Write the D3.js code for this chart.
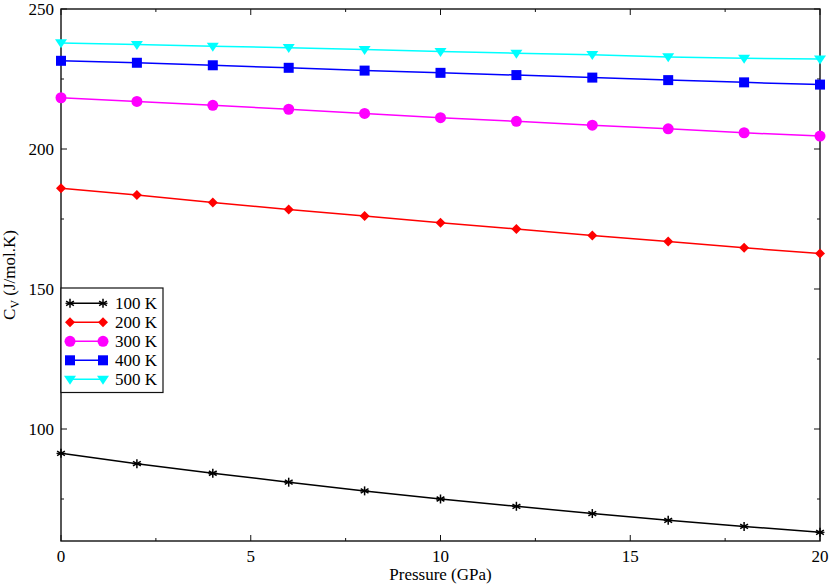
<!DOCTYPE html>
<html>
<head>
<meta charset="utf-8">
<script src="https://cdn.jsdelivr.net/npm/d3@7"></script>
<style>
  body { margin: 0; background: #fff; }
</style>
</head>
<body>
<svg id="chart" width="830" height="584"></svg>
<script>
// pressure (GPa)
const pressure = [0, 2, 4, 6, 8, 10, 12, 14, 16, 18, 20];

// Cv (J/mol.K) per temperature
const cv100 = [91.3, 87.6, 84.2, 81.0, 77.9, 75.0, 72.4, 69.8, 67.4, 65.2, 63.1];
const cv200 = [186.0, 183.6, 180.9, 178.4, 176.1, 173.7, 171.4, 169.1, 167.0, 164.7, 162.7];
const cv300 = [218.3, 217.0, 215.6, 214.2, 212.7, 211.2, 209.9, 208.5, 207.2, 205.8, 204.6];
const cv400 = [231.5, 230.8, 229.9, 229.0, 228.0, 227.2, 226.4, 225.5, 224.6, 223.8, 223.0];
const cv500 = [237.9, 237.3, 236.7, 236.2, 235.5, 234.8, 234.2, 233.7, 232.9, 232.4, 232.1];

const seriesNames = ["100 K", "200 K", "300 K", "400 K", "500 K"];
const seriesValues = [cv100, cv200, cv300, cv400, cv500];
const seriesColors = ["#000000", "#ff0000", "#ff00ff", "#0000ff", "#00ffff"];
const seriesSymbols = ["asterisk", "diamond", "circle", "square", "triangleDown"];

const xTicks = [0, 5, 10, 15, 20];
const xMinor = [2.5, 7.5, 12.5, 17.5];
const yTicks = [100, 150, 200, 250];
const yMinor = [75, 125, 175, 225];

const FONT = "Liberation Serif";

const svg = d3.select("#chart");
const margin = {left: 61, right: 10, top: 9, bottom: 43};
const W = 830, H = 584;

const x = d3.scaleLinear().domain([0, 20]).range([margin.left, W - margin.right]);
const y = d3.scaleLinear().domain([60, 250]).range([H - margin.bottom, margin.top]);

const g = svg.append("g");

function label(sel){
  return sel.append("text").style("font-family", FONT);
}

// frame
g.append("rect")
  .attr("x", x(0)).attr("y", y(250))
  .attr("width", x(20) - x(0)).attr("height", y(60) - y(250))
  .attr("fill", "none").attr("stroke", "#111").attr("stroke-width", 1.4);

// ticks, inward on all four sides
function ticks(vals, len, show){
  vals.forEach(v => {
    g.append("line").attr("x1", x(v)).attr("x2", x(v))
      .attr("y1", y(60)).attr("y2", y(60) - len).attr("stroke", "#111");
    g.append("line").attr("x1", x(v)).attr("x2", x(v))
      .attr("y1", y(250)).attr("y2", y(250) + len).attr("stroke", "#111");
    if (show){
      label(g).attr("x", x(v)).attr("y", y(60) + 21)
        .attr("text-anchor", "middle").attr("font-size", 17).text(v);
    }
  });
}
function yticks(vals, len, show){
  vals.forEach(v => {
    g.append("line").attr("x1", x(0)).attr("x2", x(0) + len)
      .attr("y1", y(v)).attr("y2", y(v)).attr("stroke", "#111");
    g.append("line").attr("x1", x(20)).attr("x2", x(20) - len)
      .attr("y1", y(v)).attr("y2", y(v)).attr("stroke", "#111");
    if (show){
      label(g).attr("x", x(0) - 7).attr("y", y(v))
        .attr("dy", "0.35em").attr("text-anchor", "end").attr("font-size", 17).text(v);
    }
  });
}
ticks(xTicks, 6, true);
ticks(xMinor, 3, false);
yticks(yTicks, 6, true);
yticks(yMinor, 3, false);

// axis labels
label(g).attr("x", x(10)).attr("y", H - 4)
  .attr("text-anchor", "middle").attr("font-size", 17).text("Pressure (GPa)");

const yl = label(g)
  .attr("transform", `translate(15, ${y(155)}) rotate(-90)`)
  .attr("text-anchor", "middle").attr("font-size", 17);
yl.append("tspan").text("C");
yl.append("tspan").attr("font-size", 12).attr("dy", 4).text("V");
yl.append("tspan").attr("dy", -4).text(" (J/mol.K)");

// marker drawing
function drawSymbol(sel, type, cx, cy, color){
  if (type === "asterisk"){
    const r = 4.5;
    [0, 60, 120].forEach(a => {
      const rad = a * Math.PI / 180;
      sel.append("line")
        .attr("x1", cx - r * Math.sin(rad)).attr("y1", cy - r * Math.cos(rad))
        .attr("x2", cx + r * Math.sin(rad)).attr("y2", cy + r * Math.cos(rad))
        .attr("stroke", color).attr("stroke-width", 1.5);
    });
    sel.append("line").attr("x1", cx - r).attr("x2", cx + r)
      .attr("y1", cy).attr("y2", cy).attr("stroke", color).attr("stroke-width", 1.2);
  } else if (type === "diamond"){
    const r = 5;
    sel.append("path")
      .attr("d", `M${cx},${cy - r}L${cx + r},${cy}L${cx},${cy + r}L${cx - r},${cy}Z`)
      .attr("fill", color);
  } else if (type === "circle"){
    sel.append("circle").attr("cx", cx).attr("cy", cy).attr("r", 5.5).attr("fill", color);
  } else if (type === "square"){
    const r = 5;
    sel.append("rect").attr("x", cx - r).attr("y", cy - r)
      .attr("width", 2 * r).attr("height", 2 * r).attr("fill", color);
  } else if (type === "triangleDown"){
    const r = 6;
    sel.append("path")
      .attr("d", `M${cx - r},${cy - r * 0.6}L${cx + r},${cy - r * 0.6}L${cx},${cy + r * 0.9}Z`)
      .attr("fill", color);
  }
}

const line = d3.line().x(d => x(d[0])).y(d => y(d[1]));

seriesValues.forEach((vals, i) => {
  const pts = pressure.map((p, j) => [p, vals[j]]);
  const sg = g.append("g");
  sg.append("path").datum(pts).attr("d", line)
    .attr("fill", "none").attr("stroke", seriesColors[i]).attr("stroke-width", 1.5);
  pts.forEach(d => drawSymbol(sg, seriesSymbols[i], x(d[0]), y(d[1]), seriesColors[i]));
});

// legend
const lg = g.append("g");
lg.append("rect").attr("x", x(0)).attr("y", 288).attr("width", 102).attr("height", 104.5)
  .attr("fill", "#fff").attr("stroke", "#111").attr("stroke-width", 1.2);
seriesNames.forEach((name, i) => {
  const ly = 303.3 + i * 19;
  lg.append("line").attr("x1", 70).attr("x2", 103).attr("y1", ly).attr("y2", ly)
    .attr("stroke", seriesColors[i]).attr("stroke-width", 1.5);
  drawSymbol(lg, seriesSymbols[i], 70, ly, seriesColors[i]);
  drawSymbol(lg, seriesSymbols[i], 103, ly, seriesColors[i]);
  label(lg).attr("x", 115).attr("y", ly).attr("dy", "0.35em")
    .attr("font-size", 17).text(name);
});
</script>
</body>
</html>
